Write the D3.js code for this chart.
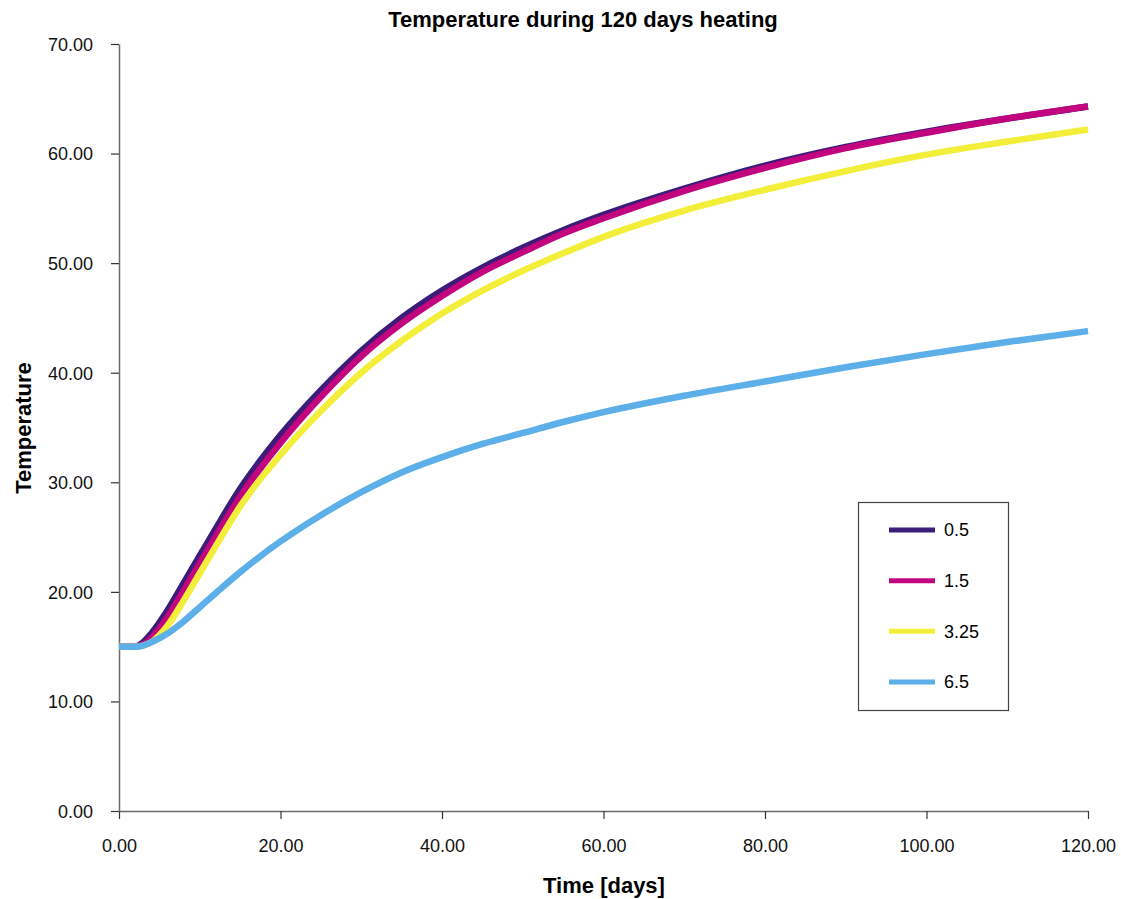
<!DOCTYPE html>
<html>
<head>
<meta charset="utf-8">
<script src="https://cdn.jsdelivr.net/npm/d3@7"></script>
<style>
  body { margin: 0; background: #fff; }
  svg { display: block; font-family: "Liberation Sans", Arial, sans-serif; }
</style>
</head>
<body>
<svg id="chart" width="1121" height="899"></svg>
<script>
// Values (days, temperature)
const days = [0, 2, 3, 4, 6, 8, 10, 12, 15, 20, 25, 30, 35, 40, 45, 50, 55, 60, 70, 80, 90, 100, 110, 120];
const temp05 = [15.0, 15.0, 15.4, 16.2, 18.3, 20.8, 23.3, 25.8, 29.4, 34.3, 38.4, 42.0, 45.0, 47.5, 49.6, 51.4, 53.0, 54.4, 56.8, 58.9, 60.6, 62.0, 63.2, 64.3];
const temp15 = [15.0, 15.0, 15.2, 15.8, 17.7, 20.1, 22.6, 25.1, 28.7, 33.6, 37.8, 41.5, 44.5, 47.0, 49.2, 51.0, 52.7, 54.1, 56.6, 58.7, 60.5, 61.9, 63.2, 64.3];
const temp325 = [15.0, 15.0, 15.1, 15.4, 16.9, 19.2, 21.7, 24.2, 27.8, 32.5, 36.5, 40.0, 42.9, 45.4, 47.5, 49.3, 50.9, 52.4, 54.8, 56.7, 58.4, 59.9, 61.1, 62.2];
const temp65 = [15.0, 15.0, 15.1, 15.4, 16.2, 17.3, 18.6, 19.9, 21.8, 24.6, 27.0, 29.1, 30.9, 32.3, 33.5, 34.5, 35.5, 36.4, 37.9, 39.2, 40.5, 41.7, 42.8, 43.8];

const seriesNames = ["0.5", "1.5", "3.25", "6.5"];
const seriesValues = [temp05, temp15, temp325, temp65];
const seriesColors = ["#3b1c78", "#c2047f", "#f2ee3a", "#5cafe8"];

const xTicks = [0, 20, 40, 60, 80, 100, 120];
const yTicks = [0, 10, 20, 30, 40, 50, 60, 70];

const svg = d3.select("#chart");
const plot = { left: 119, right: 1088, top: 44, bottom: 811 };

const x = d3.scaleLinear().domain([0, 120]).range([plot.left, plot.right]);
const y = d3.scaleLinear().domain([0, 70]).range([plot.bottom, plot.top]);

// axes
const xAxis = svg.append("g")
    .attr("transform", `translate(0,${plot.bottom})`)
    .call(d3.axisBottom(x).tickValues(xTicks).tickFormat(d3.format(".2f")).tickSize(8).tickSizeOuter(0));
const yAxis = svg.append("g")
    .attr("transform", `translate(${plot.left},0)`)
    .call(d3.axisLeft(y).tickValues(yTicks).tickFormat(d3.format(".2f")).tickSize(8).tickSizeOuter(0));

[xAxis, yAxis].forEach(a => {
    a.select(".domain").attr("stroke", "#6b6b6b").attr("stroke-width", 1.5);
    a.selectAll(".tick line").attr("stroke", "#333").attr("stroke-width", 1.2);
    a.selectAll(".tick text")
        .attr("fill", "#111")
        .style("font-size", "18px")
        .style("font-family", "'Liberation Sans', Arial, sans-serif");
});
xAxis.selectAll(".tick text").attr("dy", "0").attr("y", 41);
yAxis.selectAll(".tick text").attr("x", -26).attr("dy", "0.35em");

// lines
const line = d3.line()
    .x(d => x(d[0]))
    .y(d => y(d[1]))
    .curve(d3.curveMonotoneX);

seriesValues.forEach((vals, i) => {
    svg.append("path")
        .datum(days.map((d, j) => [d, vals[j]]))
        .attr("fill", "none")
        .attr("stroke", seriesColors[i])
        .attr("stroke-width", 6.5)
        .attr("stroke-linejoin", "round")
        .attr("d", line);
});

// title and axis labels
svg.append("text")
    .attr("x", 583).attr("y", 27)
    .attr("text-anchor", "middle")
    .style("font-size", "22px").style("font-weight", "bold")
    .text("Temperature during 120 days heating");

svg.append("text")
    .attr("x", 604).attr("y", 893)
    .attr("text-anchor", "middle")
    .style("font-size", "22px").style("font-weight", "bold")
    .text("Time [days]");

svg.append("text")
    .attr("transform", "translate(31,428) rotate(-90)")
    .attr("text-anchor", "middle")
    .style("font-size", "22px").style("font-weight", "bold")
    .text("Temperature");

// legend
const legend = svg.append("g");
legend.append("rect")
    .attr("x", 858.5).attr("y", 502.5).attr("width", 150).attr("height", 208)
    .attr("fill", "#fff").attr("stroke", "#444").attr("stroke-width", 1.2);

const legendY = d3.scalePoint().domain(seriesNames).range([530, 682]);
seriesNames.forEach((name, i) => {
    legend.append("line")
        .attr("x1", 889).attr("x2", 935)
        .attr("y1", legendY(name)).attr("y2", legendY(name))
        .attr("stroke", seriesColors[i]).attr("stroke-width", 5);
    legend.append("text")
        .attr("x", 944).attr("y", legendY(name))
        .attr("dy", "0.35em")
        .style("font-size", "18px")
        .text(name);
});
</script>
</body>
</html>
